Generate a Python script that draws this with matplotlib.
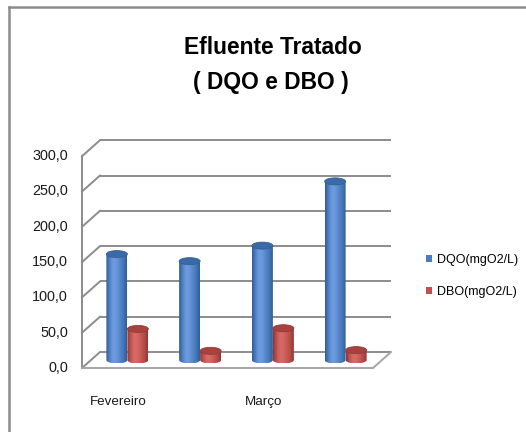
import numpy as np
import matplotlib
matplotlib.use("Agg")
import matplotlib.pyplot as plt
from matplotlib import font_manager
from matplotlib.patches import Ellipse, PathPatch, Patch
from matplotlib.path import Path
from matplotlib.lines import Line2D

# ---- data -------------------------------------------------------------
categories = ["Fevereiro", "", "Março", ""]
dqo = [150.0, 140.0, 162.0, 253.0]   # DQO (mgO2/L)
dbo = [44.0, 13.0, 45.0, 14.0]       # DBO (mgO2/L)
series_names = ["DQO(mgO2/L)", "DBO(mgO2/L)"]
y_ticks = [0, 50, 100, 150, 200, 250, 300]
title_lines = ["Efluente Tratado", "( DQO e DBO )"]

# ---- fonts --------------------------------------------------------------
available = {f.name for f in font_manager.fontManager.ttflist}
if "Liberation Sans Narrow" in available:
    FONT, SCALE = "Liberation Sans Narrow", 1.0 / 0.82
else:
    FONT, SCALE = "Liberation Sans", 1.0
plt.rcParams["font.family"] = [FONT, "DejaVu Sans"]

W, H = 526, 432
fig = plt.figure(figsize=(W / 100, H / 100), dpi=100)
fig.patch.set_facecolor("white")

# Axes spans the whole figure; limits chosen so one x unit is one category
# slot and y is in mgO2/L.
ax = fig.add_axes([0, 0, 1, 1])
PX_X = 72.75        # pixels per category
PX_Y = 0.706        # pixels per mgO2/L
x0 = -0.5 - 82 / PX_X
y0 = -(H - 368) / PX_Y
ax.set_xlim(x0, x0 + W / PX_X)
ax.set_ylim(y0, y0 + H / PX_Y)
ax.axis("off")

DX = 18 / PX_X      # depth offset (x)
DY = 16 / PX_Y      # depth offset (y)
n = len(categories)
XL, XR = -0.5, n - 0.5
YMAX = y_ticks[-1]

grid_c = "#8c8c8c"
lw = 1.4
# back wall gridlines and side wall diagonals
for v in y_ticks:
    ax.plot([XL + DX, XR + DX], [v + DY, v + DY], color=grid_c, lw=lw,
            solid_capstyle="butt", zorder=1)
    ax.plot([XL, XL + DX], [v, v + DY], color=grid_c, lw=lw, zorder=1)
# front-left edge
ax.plot([XL, XL], [0, YMAX], color=grid_c, lw=lw, zorder=1)
# floor front and right edges
floor_c = "#a6a6a6"
ax.plot([XL, XR], [0, 0], color=floor_c, lw=lw, zorder=1)
ax.plot([XR, XR + DX], [0, DY], color=floor_c, lw=lw, zorder=1)

# y tick labels
for v in y_ticks:
    ax.text(XL - 14 / PX_X, v, f"{v:.1f}".replace(".", ","), ha="right",
            va="center", fontsize=10.4 * SCALE, color="#1a1a1a")

# category labels
for i, lab in enumerate(categories):
    if lab:
        ax.text(i, -34 / PX_Y, lab, ha="center", va="center",
                fontsize=9.6 * SCALE, color="#1a1a1a")


def shade(base, light, dark, m=64):
    t = np.linspace(0, 1, m)
    # brightness profile across the cylinder: peak a bit left of centre
    prof = np.exp(-((t - 0.38) / 0.28) ** 2)
    edge = (np.abs(t - 0.5) * 2) ** 3
    base = np.array(matplotlib.colors.to_rgb(base))
    light = np.array(matplotlib.colors.to_rgb(light))
    dark = np.array(matplotlib.colors.to_rgb(dark))
    col = base[None, :] + (light - base)[None, :] * prof[:, None]
    col = col + (dark - col) * edge[:, None]
    return np.clip(col, 0, 1)[None, :, :]


BAR_W = 21 / PX_X
RY = 3.5 / PX_Y     # vertical semi-axis of the cylinder ellipses

styles = [
    dict(base="#4a7dbf", light="#6d9be0", dark="#2f5c99", top="#3c6aa7",
         top_edge="#355f96"),
    dict(base="#c0504d", light="#d86a66", dark="#8f3532", top="#a8423f",
         top_edge="#963a37"),
]


def cylinder(cx, value, st, z):
    r = BAR_W / 2
    yb = DY / 2
    yt = yb + value
    th = np.linspace(np.pi, 2 * np.pi, 40)
    bottom = np.column_stack([cx + r * np.cos(th), yb + RY * np.sin(th)])
    verts = np.vstack([[cx - r, yt], bottom, [cx + r, yt], [cx - r, yt]])
    path = Path(verts, closed=True)
    clip = PathPatch(path, transform=ax.transData, facecolor="none",
                     edgecolor="none")
    ax.add_patch(clip)
    im = ax.imshow(shade(st["base"], st["light"], st["dark"]),
                   extent=[cx - r, cx + r, yb - RY, yt], aspect="auto",
                   interpolation="bilinear", zorder=z)
    im.set_clip_path(clip)
    ax.add_patch(Ellipse((cx, yt), 2 * r, 2 * RY, facecolor=st["top"],
                         edgecolor=st["top_edge"], lw=0.6, zorder=z + 0.1))


for i in range(n):
    cxm = i + DX / 2
    cylinder(cxm - BAR_W / 2, dqo[i], styles[0], 3 + i)
    cylinder(cxm + BAR_W / 2, dbo[i], styles[1], 3.5 + i)

ax.set_xlim(x0, x0 + W / PX_X)
ax.set_ylim(y0, y0 + H / PX_Y)

# title
fig.text(273 / W, 1 - 47 / H, title_lines[0], ha="center", va="center",
         fontsize=16.4 * SCALE, fontweight="bold", color="black")
fig.text(271 / W, 1 - 83 / H, title_lines[1], ha="center", va="center",
         fontsize=16.4 * SCALE, fontweight="bold", color="black")

# legend
handles = [Patch(facecolor=styles[0]["base"], edgecolor="none"),
           Patch(facecolor=styles[1]["base"], edgecolor="none")]
fig.legend(handles, series_names, loc="center left",
           bbox_to_anchor=(426 / W, 1 - 276 / H), frameon=False,
           borderpad=0, borderaxespad=0,
           handlelength=0.5, handleheight=0.5, handletextpad=0.35,
           labelspacing=1.65, prop={"size": 9.0 * SCALE, "family": FONT})

# chart frame (top and left borders)
fig.add_artist(Line2D([9 / W, 1], [1 - 7 / H, 1 - 7 / H],
                      transform=fig.transFigure, color="#8c8c8c", lw=1.8))
fig.add_artist(Line2D([9 / W, 9 / W], [0, 1 - 7 / H],
                      transform=fig.transFigure, color="#8c8c8c", lw=1.8))

fig.savefig("out.png", dpi=100, facecolor="white")
